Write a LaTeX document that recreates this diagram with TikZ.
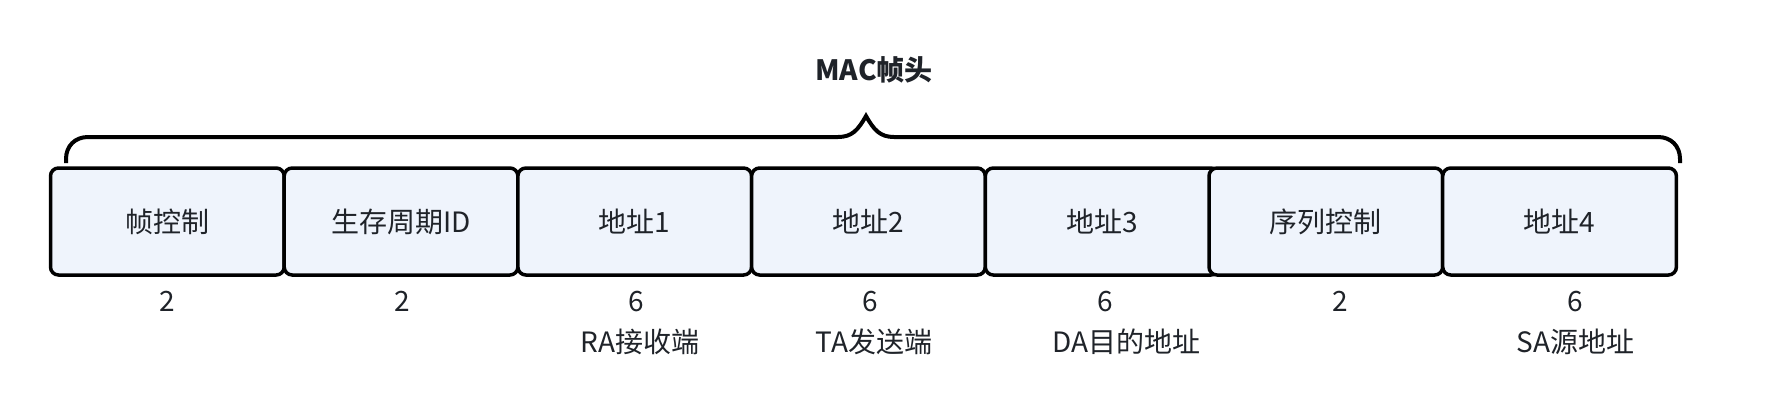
\documentclass[tikz,border=0pt]{standalone}
\usepackage{fontspec}
\setmainfont{Noto Sans CJK SC}
\definecolor{boxfill}{HTML}{EFF4FC}
\definecolor{txt}{HTML}{1F2329}
\begin{document}
\begin{tikzpicture}[x=1pt,y=-1pt,
  box/.style={draw=black, fill=boxfill, line width=3.5pt, rounded corners=8pt,
    minimum width=233.7pt, minimum height=107pt, inner sep=0pt, outer sep=0pt,
    anchor=west, text=txt, font=\fontsize{28}{28}\selectfont},
  lbl/.style={anchor=base, text=txt, font=\fontsize{28}{28}\selectfont, inner sep=0pt},
  bracestyle/.style={draw=black, line width=4pt}]
\useasboundingbox (0,0) rectangle (1766,408);

\node[lbl, font=\bfseries\fontsize{28}{28}\selectfont] (title) at (874,80) {MAC帧头};

\draw[bracestyle] (66,163) -- (66,159) .. controls (66,146) and (75,137) .. (88,137)
  -- (838,137) .. controls (852,137) and (858,130) .. (866,116)
  .. controls (874,130) and (880,137) .. (894,137)
  -- (1658,137) .. controls (1671,137) and (1680,146) .. (1680,159) -- (1680,163);

\node[box] (b1) at (50.5,221.5) {帧控制};
\node[box] (b2) at (284.2,221.5) {生存周期ID};
\node[box] (b3) at (517.9,221.5) {地址1};
\node[box] (b4) at (751.6,221.5) {地址2};
\node[box] (b5) at (985.3,221.5) {地址3};
\node[box] (b6) at (1209,221.5) {序列控制};
\node[box] (b7) at (1442.7,221.5) {地址4};

\node[lbl] (n1) at (167,311.5) {2};
\node[lbl] (n2) at (402,311.5) {2};
\node[lbl] (n3) at (636.5,311.5) {6};
\node[lbl] (n4) at (870.5,311.5) {6};
\node[lbl] (n5) at (1105,311.5) {6};
\node[lbl] (n6) at (1340,311.5) {2};
\node[lbl] (n7) at (1575,311.5) {6};

\node[lbl] (l3) at (640,352.5) {RA接收端};
\node[lbl] (l4) at (874,352.5) {TA发送端};
\node[lbl] (l5) at (1126,352.5) {DA目的地址};
\node[lbl] (l7) at (1575.5,352.5) {SA源地址};
\end{tikzpicture}
\end{document}
